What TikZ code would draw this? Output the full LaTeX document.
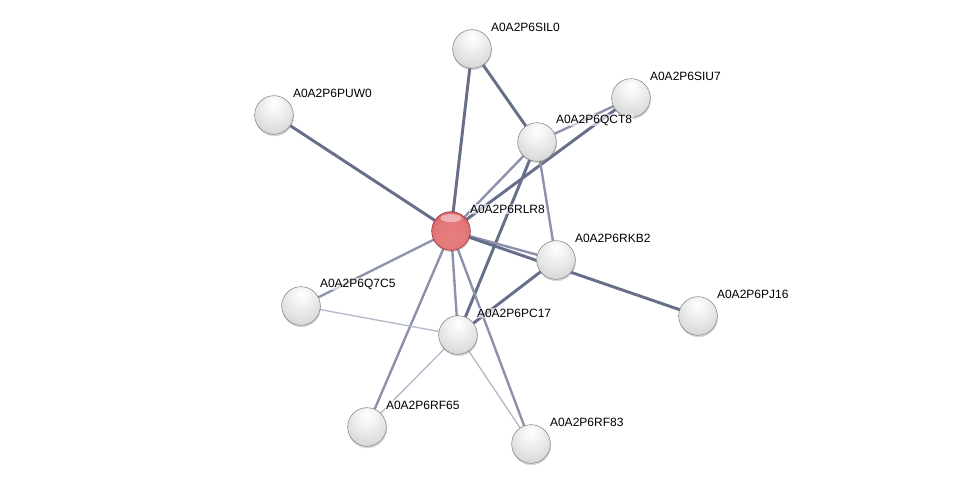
\documentclass[tikz,border=0pt]{standalone}
\usepackage{fontspec}
\setmainfont{Liberation Sans}
\usepackage{tikz}
\usetikzlibrary{backgrounds,shadows}

\definecolor{edgedark}{RGB}{102,110,138}
\definecolor{edgemid}{RGB}{140,146,172}
\definecolor{edgelight}{RGB}{180,184,202}
\definecolor{ballrim}{RGB}{130,130,130}
\definecolor{redrim}{RGB}{150,40,45}
\definecolor{redcore}{RGB}{232,125,128}
\definecolor{redouter}{RGB}{185,70,75}

\pgfdeclareradialshading{protball}{\pgfpoint{0bp}{16bp}}{color(0bp)=(white); color(10bp)=(white!96!black); color(30bp)=(white!86!black); color(48bp)=(white!72!black); color(66bp)=(white!55!black)}
\pgfdeclareradialshading{queryball}{\pgfpoint{0bp}{-6bp}}{color(0bp)=(redcore); color(20bp)=(redcore!90!redouter); color(42bp)=(redouter!85!redcore); color(58bp)=(redouter)}

\begin{document}
\begin{tikzpicture}[
    x=0.75pt, y=-0.75pt,
    protein/.style={circle, minimum size=29pt, inner sep=0pt, draw=ballrim, thin, shading=protball, drop shadow={shadow xshift=0.4pt, shadow yshift=-1.4pt, opacity=0.3}},
    query/.style={protein, shading=queryball, draw=redrim},
    protlabel/.style={font=\fontsize{9}{10}\selectfont, anchor=west, inner sep=0.6pt, fill=white, fill opacity=0.6, text opacity=1},
    strong/.style={draw=edgedark, line width=2.2pt},
    medium/.style={draw=edgemid, line width=1.8pt},
    weak/.style={draw=edgelight, line width=1pt}
]
    \useasboundingbox (0,0) rectangle (976,489);

    % Proteins
    \node[query] (rlr8) at (451,231) {};
    \node[protein] (sil0) at (472,49) {};
    \node[protein] (siu7) at (631,98) {};
    \node[protein] (puw0) at (274,115) {};
    \node[protein] (qct8) at (537,142) {};
    \node[protein] (rkb2) at (556,260) {};
    \node[protein] (pj16) at (698,316) {};
    \node[protein] (q7c5) at (301,306) {};
    \node[protein] (pc17) at (458,335) {};
    \node[protein] (rf65) at (367,427) {};
    \node[protein] (rf83) at (531,444) {};

    % Highlight on the query protein
    \fill[white, opacity=0.45] ([yshift=-5]rlr8.north) ellipse (8pt and 3pt);

    % Labels
    \node[protlabel] (lrlr8) at ([shift={(18,-22)}]rlr8.center) {A0A2P6RLR8};
    \node[protlabel] (lsil0) at ([shift={(18,-22)}]sil0.center) {A0A2P6SIL0};
    \node[protlabel] (lsiu7) at ([shift={(18,-22)}]siu7.center) {A0A2P6SIU7};
    \node[protlabel] (lpuw0) at ([shift={(18,-22)}]puw0.center) {A0A2P6PUW0};
    \node[protlabel] (lqct8) at ([shift={(18,-22)}]qct8.center) {A0A2P6QCT8};
    \node[protlabel] (lrkb2) at ([shift={(18,-22)}]rkb2.center) {A0A2P6RKB2};
    \node[protlabel] (lpj16) at ([shift={(18,-22)}]pj16.center) {A0A2P6PJ16};
    \node[protlabel] (lq7c5) at ([shift={(18,-22)}]q7c5.center) {A0A2P6Q7C5};
    \node[protlabel] (lpc17) at ([shift={(18,-22)}]pc17.center) {A0A2P6PC17};
    \node[protlabel] (lrf65) at ([shift={(18,-22)}]rf65.center) {A0A2P6RF65};
    \node[protlabel] (lrf83) at ([shift={(18,-22)}]rf83.center) {A0A2P6RF83};

    % Interactions
    \begin{scope}[on background layer]
        \draw[strong] (rlr8.center) -- (puw0.center);
        \draw[strong] (rlr8.center) -- (sil0.center);
        \draw[strong] (sil0.center) -- (qct8.center);
        \draw[strong] (rlr8.center) -- (siu7.center);
        \draw[medium] (rlr8.center) -- (qct8.center);
        \draw[medium] (qct8.center) -- (siu7.center);
        \draw[strong] (qct8.center) -- (pc17.center);
        \draw[medium] (qct8.center) -- (rkb2.center);
        \draw[medium] (rlr8.center) -- (rkb2.center);
        \draw[strong] (rlr8.center) -- (pj16.center);
        \draw[strong] (rkb2.center) -- (pc17.center);
        \draw[medium] (rlr8.center) -- (q7c5.center);
        \draw[medium] (rlr8.center) -- (pc17.center);
        \draw[medium] (rlr8.center) -- (rf65.center);
        \draw[medium] (rlr8.center) -- (rf83.center);
        \draw[weak] (q7c5.center) -- (pc17.center);
        \draw[weak] (pc17.center) -- (rf65.center);
        \draw[weak] (pc17.center) -- (rf83.center);
    \end{scope}
\end{tikzpicture}
\end{document}
